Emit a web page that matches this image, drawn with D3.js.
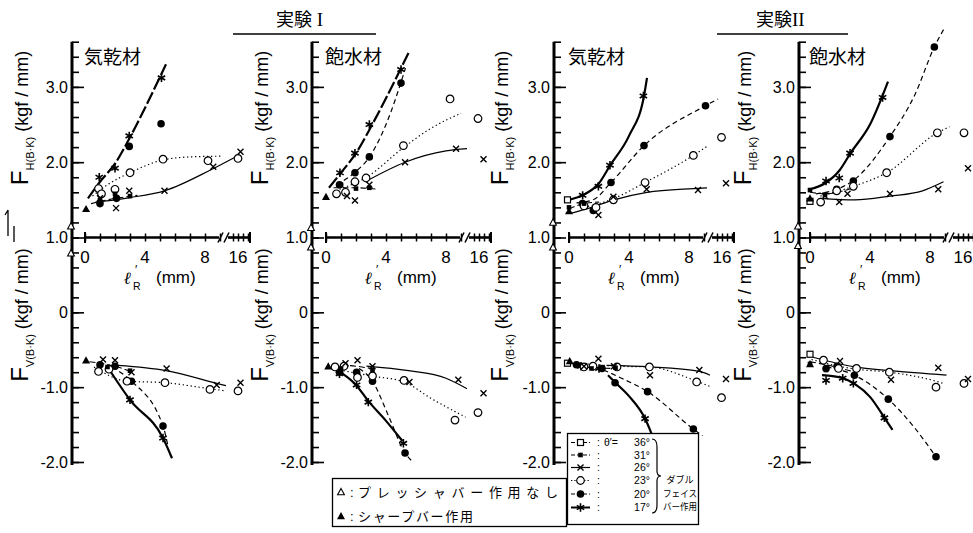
<!DOCTYPE html>
<html><head><meta charset="utf-8">
<script src="https://cdn.jsdelivr.net/npm/d3@7"></script>
<style>body{margin:0;background:#fff}svg{display:block}</style>
</head><body>
<svg id="c" width="973" height="533"></svg>
<script>
// ---------------- DATA ----------------
const seriesKeys = ["36","31","26","23","20","17"];
const thetaLabels = ["36°","31°","26°","23°","20°","17°"];
const xTickValues = [0,1,2,3,4,5,6,7,8,9,15,16,17,18];
const xTickLabels = [0,4,8,16];
const yTopTicks = [3.0,2.0,1.0];
const yBottomTicks = [0,-1.0,-2.0];
const panelTitles = ["気乾材","飽水材","気乾材","飽水材"];
const groupTitles = ["実験","実験"];
const groupNumerals = [" I","II"];
const triangleLegend = ["プレッシャバー作用なし","シャープバー作用"];
const doubleFaceLegend = ["ダブル","フェイス","バー作用"];

// points: [series, lR' (mm), F (kgf/mm)]
const exp1AirH = [
 ["17",0.95,1.80],["17",2.0,1.92],["17",2.95,2.35],["17",5.1,3.12],
 ["20",1.0,1.45],["20",2.1,1.52],["20",2.95,2.21],["20",5.07,2.51],
 ["23",0.9,1.65],["23",1.1,1.58],["23",2.0,1.64],["23",3.0,1.86],["23",5.2,2.04],["23",8.2,2.02],["23",16.0,2.05],
 ["26",1.0,1.52],["26",2.07,1.39],["26",2.95,1.62],["26",5.3,1.62],["26",8.55,1.94],["26",16.5,2.14],
 ["31",1.0,1.50],["31",2.0,1.58],["31",3.0,1.55],
 ["tri",0.07,1.38],["triO",-0.95,1.15]
];
const exp1AirHFit = [
 ["17",[[0.2,1.52],[1,1.74],[2,1.98],[3,2.33],[4,2.72],[5.4,3.3]]],
 ["23",[[0.5,1.55],[1.5,1.7],[3,1.86],[5.2,2.03],[7,2.07],[9.1,2.08]]],
 ["26",[[0.7,1.47],[2,1.5],[3,1.53],[5.3,1.62],[8.4,1.9],[15.2,2.06]]],
 ["31",[[0.4,1.45],[1.5,1.5],[3.5,1.56]]]
];
const exp1AirV = [
 ["17",3.0,-1.17],["17",5.2,-1.68],
 ["20",1.0,-0.70],["20",2.0,-0.72],["20",3.1,-0.92],["20",5.2,-1.52],
 ["23",0.9,-0.79],["23",1.6,-0.76],["23",2.8,-0.92],["23",5.33,-0.94],["23",8.33,-1.03],["23",16.0,-1.05],
 ["26",1.2,-0.63],["26",2.0,-0.64],["26",3.1,-0.80],["26",5.44,-0.75],["26",8.78,-0.97],["26",16.5,-0.94],
 ["31",1.5,-0.73],["31",3.0,-0.78],
 ["tri",0.07,-0.64],["triO",-0.95,0.79]
];
const exp1AirVFit = [
 ["17",[[1.6,-0.76],[3.0,-1.17],[5.2,-1.68],[5.8,-1.95]]],
 ["20",[[1.8,-0.73],[3.1,-0.92],[5.2,-1.52],[5.55,-1.80]]],
 ["23",[[0.6,-0.73],[2.8,-0.92],[5.3,-0.94],[8.3,-1.02],[9.4,-1.05]]],
 ["26",[[2.2,-0.71],[5.4,-0.78],[8.8,-0.95],[9.4,-0.98]]],
 ["31",[[0.3,-0.66],[2,-0.72],[3.2,-0.8]]]
];
const exp1WetH = [
 ["17",0.93,1.86],["17",1.93,2.12],["17",2.89,2.50],["17",5.0,3.23],
 ["20",0.9,1.70],["20",1.93,1.86],["20",2.89,2.07],["20",5.0,3.05],
 ["23",0.7,1.58],["23",1.3,1.60],["23",1.93,1.74],["23",2.67,1.79],["23",5.16,2.22],["23",8.27,2.84],["23",15.8,2.58],
 ["26",1.4,1.55],["26",1.93,1.49],["26",2.89,1.70],["26",5.27,2.0],["26",8.67,2.18],["26",16.9,2.04],
 ["31",1.0,1.70],["31",2.0,1.65],["31",2.89,1.66],
 ["tri",0,1.54],["triO",-0.95,1.13]
];
const exp1WetHFit = [
 ["17",[[0.2,1.66],[1,1.86],[2,2.12],[3,2.47],[4,2.85],[5.5,3.45]]],
 ["20",[[0.7,1.70],[1.9,1.86],[2.9,2.07],[4,2.5],[5.3,3.25]]],
 ["23",[[0.9,1.64],[2.7,1.8],[5.2,2.2],[7,2.45],[9.0,2.65]]],
 ["26",[[2.7,1.75],[5.27,2.0],[8.0,2.15],[9.4,2.18]]],
 ["31",[[0.5,1.66],[2,1.66],[3.5,1.64]]]
];
const exp1WetV = [
 ["17",0.9,-0.82],["17",2.04,-0.97],["17",2.82,-1.20],["17",5.16,-1.75],
 ["20",0.9,-0.80],["20",2.04,-0.80],["20",3.1,-0.92],["20",5.27,-1.88],
 ["23",0.6,-0.73],["23",1.2,-0.72],["23",2.1,-0.87],["23",3.1,-0.85],["23",5.2,-0.91],["23",8.6,-1.44],["23",15.8,-1.34],
 ["26",1.3,-0.68],["26",2.1,-0.64],["26",3.1,-0.72],["26",5.56,-0.93],["26",8.82,-0.90],["26",16.9,-1.08],
 ["31",1.0,-0.75],["31",3.1,-0.77],
 ["tri",0.15,-0.72],["triO",-0.95,0.87]
];
const exp1WetVFit = [
 ["17",[[1.1,-0.82],[2.0,-0.97],[2.8,-1.18],[4,-1.45],[5.1,-1.72]]],
 ["20",[[2.2,-0.75],[3.1,-0.92],[4.2,-1.4],[5.27,-1.88],[5.8,-2.0]]],
 ["23",[[0.9,-0.77],[3,-0.85],[5.2,-0.93],[7,-1.15],[9.3,-1.4]]],
 ["26",[[2.7,-0.72],[5.5,-0.78],[8.0,-0.88],[9.4,-1.02]]],
 ["31",[[0.4,-0.7],[2,-0.72],[3.3,-0.76]]]
];
const exp2AirH = [
 ["17",0.91,1.56],["17",1.96,1.68],["17",2.73,1.96],["17",4.96,2.88],
 ["20",0.9,1.45],["20",1.62,1.36],["20",2.8,1.73],["20",5.0,2.22],["20",9.1,2.75],
 ["23",1.0,1.42],["23",1.8,1.40],["23",2.96,1.50],["23",5.07,1.73],["23",8.29,2.09],["23",15.9,2.33],
 ["26",1.96,1.30],["26",2.96,1.54],["26",5.18,1.64],["26",8.6,1.63],["26",16.8,1.72],
 ["36",-0.1,1.50],["31",0,1.40],["31",1.0,1.45],
 ["tri",0,1.35],["triO",-0.95,1.20]
];
const exp2AirHFit = [
 ["17",[[0,1.5],[1,1.57],[2,1.72],[2.75,1.96],[4,2.35],[5,2.88],[5.2,3.12]]],
 ["20",[[0.5,1.46],[1.6,1.5],[2.8,1.73],[5,2.22],[9.1,2.75],[15.2,2.84]]],
 ["23",[[1,1.4],[2.9,1.51],[5.07,1.73],[8.29,2.09],[9.2,2.21]]],
 ["26",[[0.1,1.32],[1.5,1.4],[3,1.5],[5.2,1.6],[8.3,1.65],[9.2,1.66]]],
 ["31",[[0,1.38],[1,1.45],[2,1.47]]]
];
const exp2AirV = [
 ["17",0.8,-0.72],["17",2.0,-0.75],["17",5.07,-1.42],
 ["20",0.5,-0.70],["20",2.2,-0.75],["20",3.07,-0.94],["20",5.24,-1.06],["20",8.29,-1.56],
 ["23",1.0,-0.73],["23",1.6,-0.72],["23",3.2,-0.73],["23",5.36,-0.73],["23",8.51,-0.93],["23",15.9,-1.14],
 ["26",1.0,-0.72],["26",1.96,-0.62],["26",3.0,-0.72],["26",5.4,-0.84],["26",8.69,-0.77],["26",16.8,-0.89],
 ["36",-0.1,-0.68],["31",1.5,-0.75],["31",3.1,-0.74],
 ["tri",0.05,-0.65],["triO",-0.95,0.87]
];
const exp2AirVFit = [
 ["17",[[2.6,-0.84],[3.1,-0.94],[4,-1.12],[5.07,-1.42],[5.5,-1.62]]],
 ["20",[[2.3,-0.77],[3.5,-0.88],[5.24,-1.06],[8.29,-1.56],[8.9,-1.65]]],
 ["23",[[0.7,-0.68],[3.2,-0.72],[5.36,-0.73],[8.5,-0.92],[9.4,-0.99]]],
 ["26",[[2.5,-0.71],[5.4,-0.73],[8.69,-0.79],[9.4,-0.84]]],
 ["31",[[0,-0.67],[1.5,-0.74],[3.2,-0.75]]]
];
const exp2WetH = [
 ["17",1.07,1.75],["17",1.95,1.79],["17",2.67,2.12],["17",4.84,2.86],
 ["20",1.78,1.64],["20",2.89,1.75],["20",5.33,2.34],["20",8.29,3.53],
 ["23",0.71,1.47],["23",1.78,1.62],["23",2.89,1.68],["23",5.11,1.86],["23",8.49,2.39],["23",16.2,2.39],
 ["26",1.0,1.55],["26",1.95,1.47],["26",2.5,1.58],["26",5.33,1.58],["26",8.55,1.64],["26",17.0,1.92],
 ["36",0,1.48],["31",0,1.63],["31",1.0,1.57],
 ["tri",0,1.52],["triO",-0.95,1.15]
];
const exp2WetHFit = [
 ["17",[[0,1.64],[1,1.72],[2,1.9],[2.7,2.12],[4,2.5],[5.2,3.07]]],
 ["20",[[0.4,1.58],[1.8,1.64],[2.9,1.76],[5.33,2.34],[7,2.9],[8.29,3.53],[8.9,3.76]]],
 ["23",[[0.7,1.55],[2.9,1.68],[5.11,1.86],[8.49,2.39],[9.3,2.47]]],
 ["26",[[0.7,1.52],[3,1.5],[5.33,1.55],[7.5,1.62],[8.9,1.74]]],
 ["31",[[0,1.6],[1,1.58],[2.9,1.66]]]
];
const exp2WetV = [
 ["17",1.07,-0.91],["17",2.18,-0.88],["17",2.89,-0.95],["17",4.96,-1.41],
 ["20",1.07,-0.75],["20",1.8,-0.72],["20",2.96,-0.84],["20",5.22,-1.16],["20",8.4,-1.93],
 ["23",0.9,-0.64],["23",1.9,-0.75],["23",3.1,-0.75],["23",5.29,-0.80],["23",8.4,-1.0],["23",16.2,-0.95],
 ["26",2.0,-0.65],["26",5.4,-0.90],["26",8.55,-0.74],["26",17.0,-0.89],
 ["36",0,-0.56],["31",0,-0.69],["31",1.07,-0.77],
 ["tri",0,-0.69],["triO",-0.95,0.89]
];
const exp2WetVFit = [
 ["17",[[0.8,-0.84],[2.2,-0.88],[3,-0.96],[4,-1.13],[5,-1.42],[5.5,-1.57]]],
 ["20",[[1.1,-0.73],[2.96,-0.84],[5.22,-1.16],[7,-1.55],[8.4,-1.93]]],
 ["23",[[0.1,-0.63],[1.9,-0.72],[3.1,-0.76],[5.3,-0.80],[8.4,-0.92],[8.9,-0.95]]],
 ["26",[[0.2,-0.6],[3,-0.73],[5.4,-0.78],[9.1,-0.84]]],
 ["31",[[0,-0.66],[1.5,-0.72],[3,-0.8]]]
];

// ---------------- DRAWING ----------------
const NUM = "'Liberation Sans', Arial, sans-serif";
const JP = "'Noto Sans CJK JP', 'Noto Sans CJK SC', sans-serif";
const svg = d3.select("#c");
svg.append("rect").attr("width",973).attr("height",533).attr("fill","#fff");

const yTop = d3.scaleLinear().domain([1, 3.6]).range([237.5, 41.7]);
const yBot = d3.scaleLinear().domain([-2, 1]).range([462, 237.5]);

const lineStyle = {
  "17": {w:2.2, dash:null},
  "20": {w:1.2, dash:"5,3.5"},
  "23": {w:1.2, dash:"1.3,2.7"},
  "26": {w:1.2, dash:null},
  "31": {w:1.1, dash:"6,3"},
  "36": {w:1.0, dash:"6,2,1.5,2"}
};

function marker(g, type, cx, cy) {
  const m = g.append("g").attr("transform", `translate(${cx},${cy})`);
  if (type === "36") m.append("rect").attr("x",-3).attr("y",-3).attr("width",6).attr("height",6).attr("fill","#fff").attr("stroke","#000").attr("stroke-width",1.2);
  else if (type === "31") m.append("rect").attr("x",-2.3).attr("y",-2.3).attr("width",4.6).attr("height",4.6).attr("fill","#000");
  else if (type === "26") m.append("path").attr("d","M-3,-3L3,3M3,-3L-3,3").attr("stroke","#000").attr("stroke-width",1.4).attr("fill","none");
  else if (type === "23") m.append("circle").attr("r",3.8).attr("fill","#fff").attr("stroke","#000").attr("stroke-width",1.2);
  else if (type === "20") m.append("circle").attr("r",3.8).attr("fill","#000");
  else if (type === "17") m.append("path").attr("d","M0,-4.2V4.2M-3.7,-2.1L3.7,2.1M-3.7,2.1L3.7,-2.1").attr("stroke","#000").attr("stroke-width",1.6).attr("fill","none");
  else if (type === "tri") m.append("path").attr("d","M0,-4L4,3.2H-4Z").attr("fill","#000");
  else if (type === "triO") m.append("path").attr("d","M0,-3.6L3.4,2.8H-3.4Z").attr("fill","#fff").attr("stroke","#000").attr("stroke-width",1.1);
}

const panels = [
  {ax:72,  x0:85,  ylx:28,  H:exp1AirH, HF:exp1AirHFit, V:exp1AirV, VF:exp1AirVFit, dash17:"13,3"},
  {ax:312, x0:326, ylx:268, H:exp1WetH, HF:exp1WetHFit, V:exp1WetV, VF:exp1WetVFit, dash17:"13,3"},
  {ax:554, x0:569, ylx:508, H:exp2AirH, HF:exp2AirHFit, V:exp2AirV, VF:exp2AirVFit, dash17:null},
  {ax:799, x0:810, ylx:751, H:exp2WetH, HF:exp2WetHFit, V:exp2WetV, VF:exp2WetVFit, dash17:null}
];

const fmt = d => d === 0 ? "0" : (d < 0 ? "-" : "") + Math.abs(d).toFixed(1);

panels.forEach((p, i) => {
  const g = svg.append("g");
  const x = d3.scaleLinear().domain([-1, 9.5, 14.4, 18.4])
              .range([p.x0 - 15, p.x0 + 142.5, p.x0 + 145, p.x0 + 165]);
  const xy = yTop(1);

  // --- y axis ticks
  const minorTop = d3.range(12, 37, 2).map(d => d / 10);
  const minorBot = d3.range(-20, 11, 2).map(d => d / 10);
  const tickStyle = sel => { sel.select(".domain").remove(); sel.selectAll("line").attr("stroke","#000").attr("stroke-width",1.6); sel.selectAll("text").remove(); };
  g.append("g").attr("transform",`translate(${p.ax},0)`).call(d3.axisRight(yTop).tickValues(minorTop).tickSize(7)).call(tickStyle);
  g.append("g").attr("transform",`translate(${p.ax},0)`).call(d3.axisRight(yTop).tickValues([2,3]).tickSize(12)).call(tickStyle);
  g.append("g").attr("transform",`translate(${p.ax},0)`).call(d3.axisRight(yBot).tickValues(minorBot).tickSize(7)).call(tickStyle);
  g.append("g").attr("transform",`translate(${p.ax},0)`).call(d3.axisRight(yBot).tickValues([-2,-1,0,1]).tickSize(12)).call(tickStyle);
  // labels
  const lab = sel => { sel.select(".domain").remove(); sel.selectAll("line").remove(); sel.selectAll("text").attr("font-family",NUM).attr("font-size",16).attr("fill","#000"); };
  g.append("g").attr("transform",`translate(${p.ax-4},0)`).call(d3.axisLeft(yTop).tickValues(yTopTicks).tickSize(0).tickPadding(0).tickFormat(fmt)).call(lab);
  g.append("g").attr("transform",`translate(${p.ax-4},0)`).call(d3.axisLeft(yBot).tickValues(yBottomTicks).tickSize(0).tickPadding(0).tickFormat(fmt)).call(lab);
  // main y line
  g.append("line").attr("x1",p.ax).attr("x2",p.ax).attr("y1",yTop(3.6)).attr("y2",yBot(-2.04)).attr("stroke","#000").attr("stroke-width",3);

  // --- x axis (with break)
  const xt = sel => { sel.select(".domain").remove(); sel.selectAll("line").attr("stroke","#000").attr("stroke-width",1.5); sel.selectAll("text").remove(); };
  g.append("g").attr("transform",`translate(0,${xy})`).call(d3.axisBottom(x).tickValues(xTickValues).tickSize(4)).call(xt);
  g.append("g").attr("transform",`translate(0,${xy})`).call(d3.axisTop(x).tickValues(xTickValues).tickSize(4)).call(xt);
  g.append("line").attr("x1",x(0)).attr("x2",p.x0+134).attr("y1",xy).attr("y2",xy).attr("stroke","#000").attr("stroke-width",2.6);
  g.append("line").attr("x1",p.x0+143).attr("x2",x(18.4)).attr("y1",xy).attr("y2",xy).attr("stroke","#000").attr("stroke-width",2.6);
  [p.x0+135.5, p.x0+141.5].forEach(bx => g.append("line").attr("x1",bx-2.5).attr("x2",bx+2.5).attr("y1",xy+5).attr("y2",xy-5).attr("stroke","#000").attr("stroke-width",1.5));
  [x(0), x(18.4)].forEach(bx => g.append("line").attr("x1",bx).attr("x2",bx).attr("y1",xy-5.5).attr("y2",xy+5.5).attr("stroke","#000").attr("stroke-width",2));
  xTickLabels.forEach(v => g.append("text").attr("x",x(v)).attr("y",263).attr("text-anchor","middle").attr("font-family",NUM).attr("font-size",17).text(v));
  // x axis title: ℓR′ (mm)
  g.append("text").attr("x",p.x0+39).attr("y",284).attr("font-family","'DejaVu Serif', serif").attr("font-style","italic").attr("font-weight","bold").attr("font-size",17).text("ℓ");
  g.append("text").attr("x",p.x0+48).attr("y",290).attr("font-family",NUM).attr("font-size",10.5).text("R");
  g.append("text").attr("x",p.x0+50).attr("y",274).attr("font-family",NUM).attr("font-size",12).text("′");
  g.append("text").attr("x",p.x0+71).attr("y",283).attr("font-family",NUM).attr("font-size",17).text("(mm)");

  // y axis titles (rotated)
  [["H",118],["V",315]].forEach(([s, cy]) => {
    const t = g.append("text").attr("transform",`translate(${p.ylx},${cy}) rotate(-90)`).attr("text-anchor","middle").attr("font-family",NUM).attr("fill","#000");
    t.append("tspan").attr("font-size",24).text("F");
    t.append("tspan").attr("font-size",11).attr("dy",6).text(s + "(B·K)");
    t.append("tspan").attr("font-size",18).attr("dy",-6).text(" (kgf / mm)");
  });

  // panel title
  g.append("text").attr("x",p.x0-1).attr("y",64).attr("font-family",JP).attr("font-size",19).text(panelTitles[i]);

  // --- fits and points
  const drawSet = (pts, fits, ys, isTop) => {
    fits.forEach(([s, arr]) => {
      const st = lineStyle[s];
      let dash = st.dash;
      if (s === "17" && isTop && p.dash17) dash = p.dash17;
      g.append("path").datum(arr)
        .attr("d", d3.line().x(d => x(d[0])).y(d => ys(d[1])).curve(d3.curveMonotoneX))
        .attr("fill","none").attr("stroke","#000").attr("stroke-width",st.w)
        .attr("stroke-dasharray", dash);
    });
    pts.forEach(([s, vx, vy]) => {
      const px = s === "triO" ? p.ax - 1 : x(vx);
      marker(g, s, px, ys(vy));
    });
  };
  drawSet(p.H, p.HF, yTop, true);
  drawSet(p.V, p.VF, yBot, false);
});

// group headers
[[276, 233, 376], [756, 717, 848]].forEach(([tx, l1, l2], i) => {
  const t = svg.append("text").attr("x",tx).attr("y",26).attr("font-family",JP).attr("font-size",18);
  t.append("tspan").text(groupTitles[i]);
  t.append("tspan").attr("font-family","'Liberation Serif', serif").attr("font-size",19).text(groupNumerals[i]);
  svg.append("line").attr("x1",l1).attr("x2",l2).attr("y1",34).attr("y2",34).attr("stroke","#000").attr("stroke-width",1.4);
});

// left margin mark
svg.append("path").attr("d","M8,210V236M5,215L8,210M14,226V242").attr("stroke","#000").attr("stroke-width",1.3).attr("fill","none");

// legend 1 (triangles)
const lg1 = svg.append("g");
lg1.append("rect").attr("x",332.5).attr("y",478.5).attr("width",234).attr("height",48).attr("fill","#fff").attr("stroke","#000").attr("stroke-width",1.3);
[["triO",492,497,200],["tri",516,521,115]].forEach(([s, cy, by, len], i) => {
  marker(lg1, s, 341, cy);
  lg1.append("text").attr("x",350).attr("y",by).attr("font-family",NUM).attr("font-size",13).text(":");
  lg1.append("text").attr("x",358).attr("y",by).attr("font-family",JP).attr("font-size",13)
     .attr("textLength",len).attr("lengthAdjust","spacing").text(triangleLegend[i]);
});

// legend 2 (theta)
const lg2 = svg.append("g");
lg2.append("rect").attr("x",567.5).attr("y",433.5).attr("width",131).attr("height",91).attr("fill","#fff").attr("stroke","#000").attr("stroke-width",1.3);
const rowY = [446,458.5,471,484,497.5,511];
seriesKeys.forEach((s, i) => {
  const cy = rowY[i] - 3.5;
  lg2.append("line").attr("x1",571).attr("x2",590).attr("y1",cy).attr("y2",cy).attr("stroke","#000")
     .attr("stroke-width", s === "17" ? 2 : 1.2).attr("stroke-dasharray", s==="23" ? "1.3,2" : (s==="20"||s==="36"||s==="31") ? "4,2" : null);
  marker(lg2, s, 580.5, cy);
  lg2.append("text").attr("x",597).attr("y",rowY[i]).attr("font-family",NUM).attr("font-size",10.5).text(":");
  if (i === 0) lg2.append("text").attr("x",604).attr("y",rowY[i]).attr("font-family",NUM).attr("font-size",10.5).text("θ′=");
  lg2.append("text").attr("x",650).attr("y",rowY[i]).attr("text-anchor","end").attr("font-family",NUM).attr("font-size",10.5).text(thetaLabels[i]);
});
lg2.append("path").attr("d","M652,439 Q657,439 657,447 L657,471 Q657,476 661,476 Q657,476 657,481 L657,505 Q657,513 652,513")
   .attr("fill","none").attr("stroke","#000").attr("stroke-width",1.2);
[[483,27],[497,34],[510,34]].forEach(([by, len], i) => {
  lg2.append("text").attr("x",680 - len/2).attr("y",by)
     .attr("font-family",JP).attr("font-size",9.5).attr("textLength",len).attr("lengthAdjust","spacingAndGlyphs").text(doubleFaceLegend[i]);
});
</script>
</body></html>
